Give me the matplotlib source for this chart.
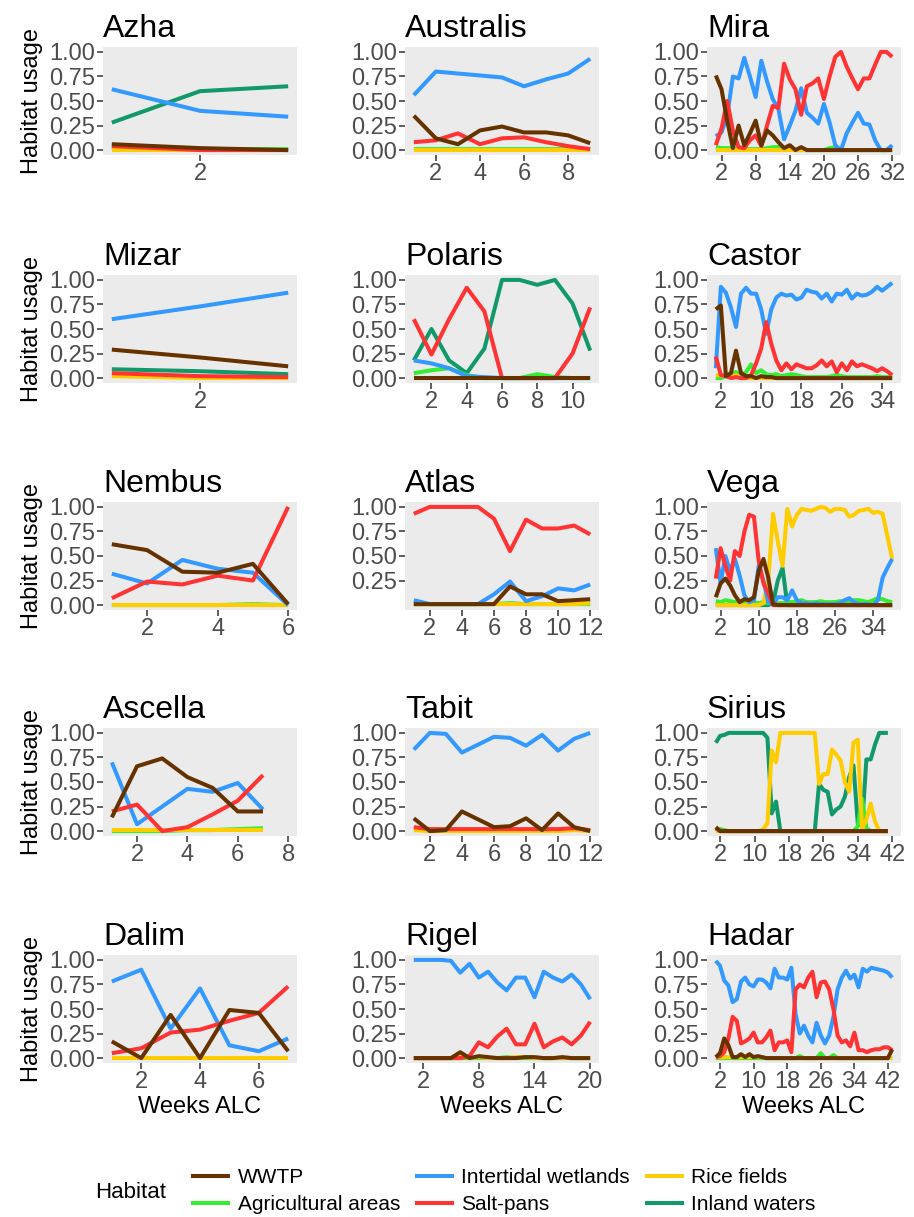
"""
Habitat usage per week after capture, one small panel per bird.
"""

import matplotlib.pyplot as plt
from matplotlib.lines import Line2D

plt.rcParams['font.family'] = ['Liberation Sans', 'DejaVu Sans']

# habitat order / colours
HABITATS = ['WWTP', 'Agricultural areas', 'Intertidal wetlands',
            'Salt-pans', 'Rice fields', 'Inland waters']
COLORS = {
    'WWTP': '#663300',
    'Agricultural areas': '#33EE33',
    'Intertidal wetlands': '#3399FF',
    'Salt-pans': '#FF3333',
    'Rice fields': '#FFCC00',
    'Inland waters': '#11996A',
}
# drawing order (last one on top)
Z_ORDER = ['Inland waters', 'Agricultural areas', 'Rice fields',
           'Intertidal wetlands', 'Salt-pans', 'WWTP']

# ---------------- data ----------------
AZHA_WEEKS = [1, 2, 3]
AZHA_WWTP = [0.06, 0.02, 0.00]
AZHA_AGRI = [0.02, 0.01, 0.01]
AZHA_INTER = [0.62, 0.40, 0.34]
AZHA_SALT = [0.04, 0.00, 0.00]
AZHA_RICE = [0.00, 0.00, 0.00]
AZHA_INLAND = [0.28, 0.60, 0.65]

AUSTRALIS_WEEKS = list(range(1, 10))
AUSTRALIS_WWTP = [0.35, 0.12, 0.06, 0.20, 0.24, 0.18, 0.18, 0.15, 0.07]
AUSTRALIS_AGRI = [0.01, 0.01, 0.01, 0.01, 0.01, 0.01, 0.01, 0.01, 0.00]
AUSTRALIS_INTER = [0.56, 0.80, 0.78, 0.76, 0.74, 0.65, 0.72, 0.78, 0.93]
AUSTRALIS_SALT = [0.08, 0.10, 0.17, 0.06, 0.12, 0.13, 0.08, 0.04, 0.01]
AUSTRALIS_RICE = [0.00, 0.00, 0.00, 0.00, 0.00, 0.00, 0.00, 0.00, 0.00]

MIRA_WEEKS = list(range(1, 33))
MIRA_WWTP = [0.76, 0.62, 0.30, 0.02, 0.25, 0.05, 0.17, 0.30, 0.05, 0.20,
             0.15, 0.08, 0.02, 0.05, 0.00, 0.03, 0.00, 0.00, 0.00, 0.00,
             0.00, 0.00, 0.00, 0.00, 0.00, 0.00, 0.00, 0.00, 0.00, 0.00,
             0.00, 0.00]
MIRA_AGRI = [0.03, 0.02, 0.02, 0.02, 0.01, 0.01, 0.01, 0.01, 0.01, 0.02,
             0.03, 0.03, 0.01, 0.01, 0.00, 0.00, 0.00, 0.00, 0.00, 0.00,
             0.02, 0.03, 0.00, 0.00, 0.00, 0.00, 0.00, 0.00, 0.00, 0.00,
             0.00, 0.00]
MIRA_INTER = [0.14, 0.18, 0.35, 0.75, 0.73, 0.94, 0.75, 0.54, 0.91, 0.70,
              0.52, 0.42, 0.11, 0.25, 0.40, 0.63, 0.38, 0.33, 0.27, 0.47,
              0.28, 0.05, 0.00, 0.17, 0.28, 0.38, 0.27, 0.26, 0.10, 0.00,
              0.00, 0.05]
MIRA_SALT = [0.05, 0.22, 0.50, 0.20, 0.03, 0.02, 0.10, 0.15, 0.04, 0.25,
             0.45, 0.43, 0.88, 0.72, 0.62, 0.36, 0.65, 0.68, 0.73, 0.52,
             0.75, 0.95, 1.00, 0.85, 0.73, 0.62, 0.73, 0.73, 0.87, 1.00,
             1.00, 0.95]
MIRA_RICE = [0.00, 0.00, 0.00, 0.00, 0.00, 0.00, 0.00, 0.00, 0.00, 0.00,
             0.00, 0.00, 0.00, 0.00, 0.00, 0.00, 0.00, 0.00, 0.00, 0.00,
             0.00, 0.00, 0.00, 0.00, 0.00, 0.00, 0.00, 0.00, 0.00, 0.00,
             0.00, 0.00]

MIZAR_WEEKS = [1, 2, 3]
MIZAR_WWTP = [0.29, 0.21, 0.12]
MIZAR_INTER = [0.60, 0.73, 0.87]
MIZAR_SALT = [0.05, 0.02, 0.01]
MIZAR_RICE = [0.02, 0.00, 0.00]
MIZAR_INLAND = [0.09, 0.07, 0.04]

POLARIS_WEEKS = list(range(1, 12))
POLARIS_WWTP = [0.00, 0.00, 0.00, 0.00, 0.00, 0.00, 0.00, 0.00, 0.00, 0.00, 0.00]
POLARIS_AGRI = [0.05, 0.08, 0.10, 0.03, 0.00, 0.00, 0.00, 0.04, 0.01, 0.00, 0.00]
POLARIS_INTER = [0.18, 0.15, 0.10, 0.02, 0.01, 0.00, 0.00, 0.00, 0.00, 0.00, 0.00]
POLARIS_SALT = [0.60, 0.24, 0.60, 0.92, 0.68, 0.00, 0.00, 0.00, 0.00, 0.25, 0.72]
POLARIS_INLAND = [0.18, 0.50, 0.18, 0.05, 0.30, 1.00, 1.00, 0.95, 1.00, 0.76, 0.28]

CASTOR_WEEKS = list(range(1, 37))
CASTOR_WWTP = [0.70, 0.74, 0.02, 0.05, 0.28, 0.05, 0.02, 0.02, 0.00, 0.02,
               0.01, 0.01, 0.00, 0.00, 0.00, 0.00, 0.00, 0.00, 0.00, 0.00,
               0.00, 0.00, 0.00, 0.00, 0.00, 0.00, 0.00, 0.00, 0.00, 0.00,
               0.00, 0.00, 0.00, 0.00, 0.00, 0.00]
CASTOR_AGRI = [0.00, 0.00, 0.02, 0.05, 0.06, 0.03, 0.06, 0.14, 0.05, 0.08,
               0.04, 0.03, 0.04, 0.02, 0.03, 0.04, 0.03, 0.02, 0.01, 0.01,
               0.01, 0.01, 0.01, 0.02, 0.03, 0.02, 0.01, 0.01, 0.01, 0.01,
               0.01, 0.01, 0.02, 0.01, 0.01, 0.01]
CASTOR_INTER = [0.10, 0.93, 0.87, 0.72, 0.52, 0.86, 0.92, 0.86, 0.86, 0.70,
                0.45, 0.70, 0.82, 0.86, 0.84, 0.85, 0.80, 0.82, 0.90, 0.88,
                0.87, 0.81, 0.86, 0.78, 0.86, 0.85, 0.90, 0.81, 0.86, 0.84,
                0.85, 0.88, 0.93, 0.89, 0.93, 0.97]
CASTOR_SALT = [0.22, 0.03, 0.02, 0.00, 0.01, 0.00, 0.00, 0.03, 0.15, 0.30,
               0.57, 0.35, 0.18, 0.08, 0.15, 0.09, 0.14, 0.12, 0.10, 0.10,
               0.13, 0.18, 0.12, 0.17, 0.06, 0.15, 0.08, 0.17, 0.12, 0.14,
               0.12, 0.10, 0.07, 0.10, 0.07, 0.03]
CASTOR_RICE = [0.03, 0.03, 0.02, 0.02, 0.03, 0.00, 0.00, 0.00, 0.00, 0.00,
               0.00, 0.00, 0.00, 0.00, 0.00, 0.00, 0.00, 0.00, 0.00, 0.00,
               0.00, 0.00, 0.00, 0.00, 0.00, 0.00, 0.00, 0.00, 0.00, 0.00,
               0.00, 0.00, 0.00, 0.00, 0.00, 0.00]

NEMBUS_WEEKS = [1, 2, 3, 4, 5, 6]
NEMBUS_WWTP = [0.62, 0.56, 0.34, 0.33, 0.42, 0.01]
NEMBUS_AGRI = [0.00, 0.00, 0.00, 0.00, 0.01, 0.00]
NEMBUS_INTER = [0.32, 0.22, 0.46, 0.37, 0.33, 0.00]
NEMBUS_SALT = [0.07, 0.24, 0.21, 0.30, 0.25, 1.00]
NEMBUS_RICE = [0.00, 0.00, 0.00, 0.00, 0.00, 0.00]

ATLAS_WEEKS = list(range(1, 13))
ATLAS_WWTP = [0.01, 0.01, 0.01, 0.01, 0.01, 0.01, 0.19, 0.11, 0.11, 0.04, 0.05, 0.06]
ATLAS_AGRI = [0.01, 0.01, 0.01, 0.01, 0.01, 0.01, 0.02, 0.01, 0.01, 0.01, 0.01, 0.01]
ATLAS_INTER = [0.05, 0.01, 0.01, 0.01, 0.01, 0.11, 0.24, 0.04, 0.09, 0.17, 0.15, 0.21]
ATLAS_SALT = [0.93, 1.00, 1.00, 1.00, 1.00, 0.88, 0.55, 0.87, 0.78, 0.78, 0.81, 0.72]
ATLAS_RICE = [0.01, 0.01, 0.01, 0.01, 0.01, 0.01, 0.01, 0.01, 0.01, 0.01, 0.01, 0.02]

VEGA_WEEKS = list(range(1, 39))
VEGA_WWTP = [0.08, 0.22, 0.27, 0.20, 0.10, 0.03, 0.06, 0.05, 0.08, 0.35,
             0.47, 0.28, 0.01, 0.00, 0.00, 0.00, 0.00, 0.00, 0.00, 0.00,
             0.00, 0.00, 0.00, 0.00, 0.00, 0.00, 0.00, 0.00, 0.00, 0.00,
             0.00, 0.00, 0.00, 0.00, 0.00, 0.00, 0.00, 0.00]
VEGA_AGRI = [0.04, 0.03, 0.05, 0.04, 0.03, 0.02, 0.03, 0.02, 0.03, 0.02,
             0.03, 0.02, 0.02, 0.02, 0.02, 0.03, 0.03, 0.04, 0.05, 0.03,
             0.03, 0.03, 0.04, 0.03, 0.03, 0.03, 0.04, 0.04, 0.03, 0.05,
             0.05, 0.04, 0.03, 0.05, 0.07, 0.06, 0.04, 0.03]
VEGA_INTER = [0.58, 0.22, 0.50, 0.35, 0.47, 0.30, 0.10, 0.03, 0.05, 0.40,
              0.25, 0.03, 0.01, 0.08, 0.08, 0.05, 0.15, 0.05, 0.02, 0.02,
              0.01, 0.02, 0.01, 0.01, 0.01, 0.01, 0.02, 0.05, 0.07, 0.03,
              0.01, 0.01, 0.01, 0.00, 0.05, 0.28, 0.38, 0.47]
VEGA_SALT = [0.27, 0.58, 0.40, 0.25, 0.55, 0.50, 0.75, 0.92, 0.90, 0.45,
             0.22, 0.12, 0.00, 0.00, 0.00, 0.00, 0.00, 0.00, 0.00, 0.00,
             0.00, 0.00, 0.00, 0.00, 0.00, 0.00, 0.00, 0.00, 0.00, 0.00,
             0.00, 0.00, 0.00, 0.00, 0.00, 0.00, 0.00, 0.00]
VEGA_RICE = [0.00, 0.00, 0.00, 0.00, 0.00, 0.00, 0.00, 0.00, 0.00, 0.00,
             0.02, 0.25, 0.93, 0.65, 0.40, 0.98, 0.80, 0.92, 0.98, 0.97,
             0.96, 0.98, 1.00, 0.99, 0.95, 0.98, 0.98, 0.97, 0.90, 0.92,
             0.96, 0.97, 0.98, 0.94, 0.95, 0.93, 0.70, 0.47]
VEGA_INLAND = [0.00, 0.00, 0.00, 0.00, 0.00, 0.00, 0.00, 0.00, 0.00, 0.00,
               0.00, 0.00, 0.02, 0.25, 0.38, 0.00, 0.00, 0.00, 0.00, 0.00,
               0.00, 0.00, 0.00, 0.00, 0.00, 0.00, 0.00, 0.00, 0.00, 0.00,
               0.00, 0.00, 0.00, 0.00, 0.00, 0.00, 0.00, 0.00]

ASCELLA_WEEKS = [1, 2, 3, 4, 5, 6, 7]
ASCELLA_WWTP = [0.14, 0.66, 0.74, 0.55, 0.44, 0.20, 0.20]
ASCELLA_AGRI = [0.00, 0.00, 0.00, 0.01, 0.01, 0.02, 0.03]
ASCELLA_INTER = [0.70, 0.07, 0.25, 0.43, 0.40, 0.49, 0.22]
ASCELLA_SALT = [0.20, 0.27, 0.00, 0.04, 0.17, 0.31, 0.57]
ASCELLA_RICE = [0.01, 0.01, 0.01, 0.01, 0.01, 0.01, 0.01]

TABIT_WEEKS = list(range(1, 13))
TABIT_WWTP = [0.13, 0.00, 0.01, 0.20, 0.12, 0.04, 0.05, 0.13, 0.01, 0.18, 0.04, 0.00]
TABIT_INTER = [0.83, 1.00, 0.99, 0.80, 0.88, 0.96, 0.95, 0.87, 0.98, 0.82, 0.94, 1.00]
TABIT_SALT = [0.04, 0.02, 0.02, 0.02, 0.02, 0.02, 0.02, 0.02, 0.02, 0.02, 0.03, 0.01]
TABIT_RICE = [0.01, 0.00, 0.00, 0.00, 0.00, 0.00, 0.00, 0.00, 0.00, 0.00, 0.01, 0.00]

SIRIUS_WEEKS = list(range(1, 42))
SIRIUS_WWTP = [0.04, 0.00, 0.00, 0.00, 0.00, 0.00, 0.00, 0.00, 0.00, 0.00,
               0.00, 0.00, 0.00, 0.00, 0.00, 0.00, 0.00, 0.00, 0.00, 0.00,
               0.00, 0.00, 0.00, 0.00, 0.00, 0.00, 0.00, 0.00, 0.00, 0.00,
               0.00, 0.00, 0.00, 0.00, 0.00, 0.00, 0.00, 0.00, 0.00, 0.00,
               0.00]
SIRIUS_AGRI = [0.00, 0.02, 0.01, 0.00, 0.00, 0.00, 0.00, 0.00, 0.00, 0.00,
               0.00, 0.00, 0.00, 0.00, 0.00, 0.00, 0.00, 0.00, 0.00, 0.00,
               0.00, 0.00, 0.00, 0.00, 0.00, 0.00, 0.00, 0.00, 0.00, 0.00,
               0.00, 0.00, 0.00, 0.05, 0.33, 0.03, 0.00, 0.00, 0.00, 0.00,
               0.00]
SIRIUS_SALT = [0.03, 0.00, 0.00, 0.00, 0.00, 0.00, 0.00, 0.00, 0.00, 0.00,
               0.00, 0.00, 0.00, 0.00, 0.00, 0.00, 0.00, 0.00, 0.00, 0.00,
               0.00, 0.00, 0.00, 0.00, 0.00, 0.00, 0.00, 0.00, 0.00, 0.00,
               0.00, 0.00, 0.00, 0.00, 0.00, 0.00, 0.00, 0.00, 0.00, 0.00,
               0.00]
SIRIUS_RICE = [0.00, 0.00, 0.00, 0.00, 0.00, 0.00, 0.00, 0.00, 0.00, 0.00,
               0.00, 0.02, 0.08, 0.82, 0.70, 1.00, 1.00, 1.00, 1.00, 1.00,
               1.00, 1.00, 1.00, 1.00, 0.48, 0.58, 0.58, 0.83, 0.78, 0.72,
               0.50, 0.40, 0.90, 0.93, 0.02, 0.12, 0.28, 0.10, 0.00, 0.00,
               0.00]
SIRIUS_INLAND = [0.90, 0.97, 0.98, 1.00, 1.00, 1.00, 1.00, 1.00, 1.00, 1.00,
                 1.00, 1.00, 0.95, 0.18, 0.30, 0.00, 0.00, 0.00, 0.00, 0.00,
                 0.00, 0.00, 0.00, 0.00, 0.48, 0.42, 0.40, 0.17, 0.22, 0.25,
                 0.35, 0.55, 0.67, 0.08, 0.05, 0.73, 0.73, 0.88, 1.00, 1.00,
                 1.00]

DALIM_WEEKS = [1, 2, 3, 4, 5, 6, 7]
DALIM_WWTP = [0.17, 0.00, 0.44, 0.00, 0.49, 0.46, 0.07]
DALIM_INTER = [0.78, 0.90, 0.30, 0.71, 0.13, 0.07, 0.20]
DALIM_SALT = [0.05, 0.10, 0.26, 0.29, 0.38, 0.46, 0.73]
DALIM_RICE = [0.00, 0.00, 0.00, 0.00, 0.00, 0.00, 0.00]

RIGEL_WEEKS = list(range(1, 21))
RIGEL_WWTP = [0.00, 0.00, 0.00, 0.00, 0.00, 0.06, 0.00, 0.02, 0.01, 0.00,
              0.00, 0.00, 0.01, 0.01, 0.00, 0.00, 0.01, 0.00, 0.00, 0.00]
RIGEL_AGRI = [0.00, 0.00, 0.00, 0.00, 0.00, 0.00, 0.00, 0.00, 0.00, 0.00,
              0.01, 0.00, 0.00, 0.00, 0.00, 0.00, 0.00, 0.00, 0.00, 0.00]
RIGEL_INTER = [1.00, 1.00, 1.00, 1.00, 0.99, 0.87, 0.96, 0.82, 0.88, 0.77,
               0.69, 0.82, 0.82, 0.62, 0.88, 0.82, 0.78, 0.85, 0.75, 0.60]
RIGEL_SALT = [0.00, 0.00, 0.00, 0.00, 0.00, 0.00, 0.02, 0.16, 0.11, 0.22,
              0.30, 0.14, 0.14, 0.35, 0.11, 0.17, 0.21, 0.14, 0.23, 0.37]
RIGEL_RICE = [0.00, 0.00, 0.00, 0.00, 0.00, 0.03, 0.00, 0.01, 0.00, 0.00,
              0.00, 0.01, 0.01, 0.00, 0.00, 0.00, 0.00, 0.00, 0.00, 0.00]

HADAR_WEEKS = list(range(1, 44))
HADAR_WWTP = [0.01, 0.05, 0.20, 0.13, 0.01, 0.01, 0.04, 0.01, 0.04, 0.01,
              0.02, 0.01, 0.00, 0.00, 0.00, 0.00, 0.00, 0.00, 0.00, 0.00,
              0.00, 0.00, 0.00, 0.00, 0.00, 0.00, 0.00, 0.00, 0.00, 0.00,
              0.00, 0.00, 0.00, 0.00, 0.00, 0.00, 0.00, 0.00, 0.00, 0.00,
              0.00, 0.00, 0.09]
HADAR_AGRI = [0.00, 0.00, 0.00, 0.00, 0.00, 0.00, 0.00, 0.00, 0.00, 0.00,
              0.00, 0.00, 0.00, 0.00, 0.00, 0.00, 0.00, 0.00, 0.00, 0.00,
              0.02, 0.00, 0.00, 0.00, 0.00, 0.05, 0.00, 0.00, 0.03, 0.00,
              0.00, 0.00, 0.00, 0.00, 0.00, 0.00, 0.00, 0.00, 0.00, 0.00,
              0.00, 0.00, 0.00]
HADAR_INTER = [0.99, 0.94, 0.79, 0.74, 0.57, 0.60, 0.78, 0.82, 0.75, 0.73,
               0.80, 0.80, 0.77, 0.71, 0.91, 0.82, 0.82, 0.80, 0.92, 0.45,
               0.25, 0.33, 0.23, 0.16, 0.36, 0.23, 0.15, 0.23, 0.42, 0.70,
               0.82, 0.89, 0.81, 0.85, 0.72, 0.91, 0.88, 0.92, 0.91, 0.90,
               0.89, 0.87, 0.82]
HADAR_SALT = [0.01, 0.02, 0.06, 0.20, 0.42, 0.38, 0.15, 0.17, 0.20, 0.26,
              0.16, 0.16, 0.21, 0.28, 0.08, 0.16, 0.16, 0.18, 0.06, 0.70,
              0.75, 0.72, 0.82, 0.88, 0.62, 0.77, 0.78, 0.70, 0.50, 0.23,
              0.16, 0.18, 0.12, 0.26, 0.08, 0.08, 0.06, 0.08, 0.09, 0.09,
              0.11, 0.11, 0.08]
HADAR_RICE = [0.01, 0.01, 0.01, 0.01, 0.01, 0.01, 0.01, 0.01, 0.01, 0.01,
              0.01, 0.01, 0.00, 0.00, 0.00, 0.00, 0.00, 0.00, 0.00, 0.00,
              0.00, 0.00, 0.00, 0.00, 0.00, 0.00, 0.00, 0.00, 0.00, 0.00,
              0.00, 0.00, 0.00, 0.00, 0.00, 0.00, 0.00, 0.00, 0.00, 0.00,
              0.00, 0.00, 0.00]

# x tick labels per panel
AZHA_XTICKS = [2]
AUSTRALIS_XTICKS = [2, 4, 6, 8]
MIRA_XTICKS = [2, 8, 14, 20, 26, 32]
MIZAR_XTICKS = [2]
POLARIS_XTICKS = [2, 4, 6, 8, 10]
CASTOR_XTICKS = [2, 10, 18, 26, 34]
NEMBUS_XTICKS = [2, 4, 6]
ATLAS_XTICKS = [2, 4, 6, 8, 10, 12]
VEGA_XTICKS = [2, 10, 18, 26, 34]
ASCELLA_XTICKS = [2, 4, 6, 8]
TABIT_XTICKS = [2, 4, 6, 8, 10, 12]
SIRIUS_XTICKS = [2, 10, 18, 26, 34, 42]
DALIM_XTICKS = [2, 4, 6]
RIGEL_XTICKS = [2, 8, 14, 20]
HADAR_XTICKS = [2, 10, 18, 26, 34, 42]

Y_TICKS = [0.0, 0.25, 0.5, 0.75, 1.0]
ATLAS_YTICKS = [0.25, 0.5, 0.75, 1.0]


def build_panels():
    """Panel list: (title, weeks, {habitat: values}, xticks, last week on axis, yticks)"""
    return [
        ('Azha', AZHA_WEEKS, {'WWTP': AZHA_WWTP, 'Agricultural areas': AZHA_AGRI,
                              'Intertidal wetlands': AZHA_INTER, 'Salt-pans': AZHA_SALT,
                              'Rice fields': AZHA_RICE, 'Inland waters': AZHA_INLAND},
         AZHA_XTICKS, 3, Y_TICKS),
        ('Australis', AUSTRALIS_WEEKS, {'WWTP': AUSTRALIS_WWTP, 'Agricultural areas': AUSTRALIS_AGRI,
                                        'Intertidal wetlands': AUSTRALIS_INTER,
                                        'Salt-pans': AUSTRALIS_SALT, 'Rice fields': AUSTRALIS_RICE},
         AUSTRALIS_XTICKS, 9, Y_TICKS),
        ('Mira', MIRA_WEEKS, {'WWTP': MIRA_WWTP, 'Agricultural areas': MIRA_AGRI,
                              'Intertidal wetlands': MIRA_INTER, 'Salt-pans': MIRA_SALT,
                              'Rice fields': MIRA_RICE},
         MIRA_XTICKS, 32, Y_TICKS),
        ('Mizar', MIZAR_WEEKS, {'WWTP': MIZAR_WWTP, 'Intertidal wetlands': MIZAR_INTER,
                                'Salt-pans': MIZAR_SALT, 'Rice fields': MIZAR_RICE,
                                'Inland waters': MIZAR_INLAND},
         MIZAR_XTICKS, 3, Y_TICKS),
        ('Polaris', POLARIS_WEEKS, {'WWTP': POLARIS_WWTP, 'Agricultural areas': POLARIS_AGRI,
                                    'Intertidal wetlands': POLARIS_INTER, 'Salt-pans': POLARIS_SALT,
                                    'Inland waters': POLARIS_INLAND},
         POLARIS_XTICKS, 11, Y_TICKS),
        ('Castor', CASTOR_WEEKS, {'WWTP': CASTOR_WWTP, 'Agricultural areas': CASTOR_AGRI,
                                  'Intertidal wetlands': CASTOR_INTER, 'Salt-pans': CASTOR_SALT,
                                  'Rice fields': CASTOR_RICE},
         CASTOR_XTICKS, 36, Y_TICKS),
        ('Nembus', NEMBUS_WEEKS, {'WWTP': NEMBUS_WWTP, 'Agricultural areas': NEMBUS_AGRI,
                                  'Intertidal wetlands': NEMBUS_INTER, 'Salt-pans': NEMBUS_SALT,
                                  'Rice fields': NEMBUS_RICE},
         NEMBUS_XTICKS, 6, Y_TICKS),
        ('Atlas', ATLAS_WEEKS, {'WWTP': ATLAS_WWTP, 'Agricultural areas': ATLAS_AGRI,
                                'Intertidal wetlands': ATLAS_INTER, 'Salt-pans': ATLAS_SALT,
                                'Rice fields': ATLAS_RICE},
         ATLAS_XTICKS, 12, ATLAS_YTICKS),
        ('Vega', VEGA_WEEKS, {'WWTP': VEGA_WWTP, 'Agricultural areas': VEGA_AGRI,
                              'Intertidal wetlands': VEGA_INTER, 'Salt-pans': VEGA_SALT,
                              'Rice fields': VEGA_RICE, 'Inland waters': VEGA_INLAND},
         VEGA_XTICKS, 38, Y_TICKS),
        ('Ascella', ASCELLA_WEEKS, {'WWTP': ASCELLA_WWTP, 'Agricultural areas': ASCELLA_AGRI,
                                    'Intertidal wetlands': ASCELLA_INTER, 'Salt-pans': ASCELLA_SALT,
                                    'Rice fields': ASCELLA_RICE},
         ASCELLA_XTICKS, 8, Y_TICKS),
        ('Tabit', TABIT_WEEKS, {'WWTP': TABIT_WWTP, 'Intertidal wetlands': TABIT_INTER,
                                'Salt-pans': TABIT_SALT, 'Rice fields': TABIT_RICE},
         TABIT_XTICKS, 12, Y_TICKS),
        ('Sirius', SIRIUS_WEEKS, {'WWTP': SIRIUS_WWTP, 'Agricultural areas': SIRIUS_AGRI,
                                  'Salt-pans': SIRIUS_SALT, 'Rice fields': SIRIUS_RICE,
                                  'Inland waters': SIRIUS_INLAND},
         SIRIUS_XTICKS, 42, Y_TICKS),
        ('Dalim', DALIM_WEEKS, {'WWTP': DALIM_WWTP, 'Intertidal wetlands': DALIM_INTER,
                                'Salt-pans': DALIM_SALT, 'Rice fields': DALIM_RICE},
         DALIM_XTICKS, 7, Y_TICKS),
        ('Rigel', RIGEL_WEEKS, {'WWTP': RIGEL_WWTP, 'Agricultural areas': RIGEL_AGRI,
                                'Intertidal wetlands': RIGEL_INTER, 'Salt-pans': RIGEL_SALT,
                                'Rice fields': RIGEL_RICE},
         RIGEL_XTICKS, 20, Y_TICKS),
        ('Hadar', HADAR_WEEKS, {'WWTP': HADAR_WWTP, 'Agricultural areas': HADAR_AGRI,
                                'Intertidal wetlands': HADAR_INTER, 'Salt-pans': HADAR_SALT,
                                'Rice fields': HADAR_RICE},
         HADAR_XTICKS, 43, Y_TICKS),
    ]


def main():
    W, H = 914, 1217
    fig = plt.figure(figsize=(W / 100, H / 100), dpi=100)

    # panel grid in pixels (ggplot-like layout)
    col_left = [103, 405, 707]
    row_top = [47, 275, 502, 728, 955]
    pw, ph = 194, 108

    tick_size = 17
    lw = 2.9

    panels = build_panels()
    for i, (title, weeks, series, xticks, xmax, yticks) in enumerate(panels):
        r, c = divmod(i, 3)
        ax = fig.add_axes([col_left[c] / W, 1 - (row_top[r] + ph) / H, pw / W, ph / H])
        ax.set_facecolor('#EBEBEB')
        for s in ax.spines.values():
            s.set_visible(False)

        for hab in Z_ORDER:
            if hab in series:
                ax.plot(weeks, series[hab], color=COLORS[hab], lw=lw,
                        solid_joinstyle='round', solid_capstyle='butt')

        span = xmax - weeks[0]
        ax.set_xlim(weeks[0] - 0.05 * span, xmax + 0.05 * span)
        ax.set_ylim(-0.05, 1.05)
        ax.set_xticks(xticks)
        ax.set_xticklabels([str(t) for t in xticks])
        ax.set_yticks(yticks)
        ax.set_yticklabels([f'{t:.2f}' for t in yticks])
        ax.tick_params(length=4, width=1.1, color='#333333', labelcolor='#4D4D4D',
                       labelsize=tick_size, pad=2)
        ax.set_title(title, loc='left', fontsize=23, pad=7, color='black')

        if c == 0:
            ax.set_ylabel('Habitat usage', fontsize=17, labelpad=4)
        if r == 4:
            ax.set_xlabel('Weeks ALC', fontsize=17, labelpad=2)

    # legend at the bottom
    handles = [Line2D([], [], color=COLORS[h], lw=lw) for h in HABITATS]
    fig.legend(handles, HABITATS, ncol=3, loc='center left',
               bbox_to_anchor=(174 / W, 1 - 1191 / H), frameon=False,
               fontsize=15, handlelength=1.7, handletextpad=0.45,
               columnspacing=0.8, labelspacing=0.4)
    fig.text(95 / W, 1 - 1192 / H, 'Habitat', fontsize=16, va='center', ha='left')

    fig.savefig('out.png', dpi=100)
    plt.close(fig)


if __name__ == '__main__':
    main()
